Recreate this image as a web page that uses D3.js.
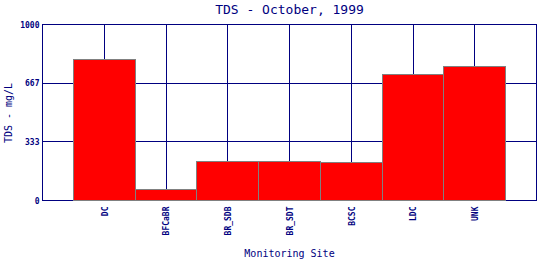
<!DOCTYPE html>
<html>
<head>
<meta charset="utf-8">
<script src="https://cdn.jsdelivr.net/npm/d3@7"></script>
<style>
  body { margin: 0; background: #fff; }
  svg { display: block; }
  text { font-family: "DejaVu Sans Mono", "Liberation Mono", monospace; fill: #000080; }
</style>
</head>
<body>
<svg id="chart" width="540" height="260"></svg>
<script>
    // data
    var sites = ["DC", "BFCaBR", "BR_SDB", "BR_SDT", "BCSC", "LDC", "UNK"];
    var tds = [800, 61, 220, 220, 214, 718, 763];
    var yTicks = [0, 333, 667, 1000];
    var yTickLabels = ["0", "333", "667", "1000"];

    var navy = "#000080";

    var svg = d3.select("#chart"),
        plotLeft = 42.5, plotRight = 536.5, plotTop = 24.5, plotBottom = 200.5;

    var x = d3.scaleLinear().domain([0, sites.length + 1]).range([plotLeft, plotRight]);
    var y = d3.scaleLinear().domain([0, 1000]).range([plotBottom, plotTop]);

    function px(v) { return Math.round(v - 0.5) + 0.5; }

    // vertical grid lines at each site
    svg.append("g")
        .selectAll("line")
        .data(sites)
        .enter()
        .append("line")
        .attr("x1", function (d, i) { return px(x(i + 1)); })
        .attr("x2", function (d, i) { return px(x(i + 1)); })
        .attr("y1", plotTop)
        .attr("y2", plotBottom)
        .attr("stroke", navy)
        .attr("shape-rendering", "crispEdges");

    // horizontal grid lines
    svg.append("g")
        .selectAll("line")
        .data(yTicks.slice(1))
        .enter()
        .append("line")
        .attr("x1", plotLeft)
        .attr("x2", plotRight)
        .attr("y1", function (d) { return px(y(d)); })
        .attr("y2", function (d) { return px(y(d)); })
        .attr("stroke", navy)
        .attr("shape-rendering", "crispEdges");

    // frame
    svg.append("rect")
        .attr("x", plotLeft).attr("y", plotTop)
        .attr("width", plotRight - plotLeft).attr("height", plotBottom - plotTop)
        .attr("fill", "none")
        .attr("stroke", navy)
        .attr("shape-rendering", "crispEdges");

    // bars
    svg.append("g")
        .selectAll("rect")
        .data(tds)
        .enter()
        .append("rect")
        .attr("x", function (d, i) { return px(x(i + 0.5)); })
        .attr("width", function (d, i) { return px(x(i + 1.5)) - px(x(i + 0.5)); })
        .attr("y", function (d) { return px(y(d)); })
        .attr("height", function (d) { return plotBottom - px(y(d)); })
        .attr("fill", "#ff0000")
        .attr("stroke", "#808080")
        .attr("shape-rendering", "crispEdges");

    // y axis labels
    var yAxis = d3.axisLeft(y)
        .tickValues(yTicks)
        .tickFormat(function (d, i) { return yTickLabels[i]; })
        .tickSize(0)
        .tickPadding(3);

    var gy = svg.append("g")
        .attr("transform", "translate(" + plotLeft + ",0)")
        .call(yAxis);
    gy.select(".domain").remove();
    gy.selectAll("text")
        .attr("font-size", 8)
        .attr("font-weight", "bold")
        .attr("dy", "0.35em")
        .style("font-family", "'DejaVu Sans Mono', monospace")
        .attr("fill", navy);

    // x axis labels, rotated
    var xAxis = d3.axisBottom(x)
        .tickValues(d3.range(1, sites.length + 1))
        .tickFormat(function (d) { return sites[d - 1]; })
        .tickSize(0);

    var gx = svg.append("g")
        .attr("transform", "translate(0," + plotBottom + ")")
        .call(xAxis);
    gx.select(".domain").remove();
    gx.selectAll("text")
        .attr("font-size", 8)
        .attr("font-weight", "bold")
        .attr("transform", "rotate(-90)")
        .attr("text-anchor", "end")
        .attr("x", -6)
        .attr("y", 0)
        .attr("dy", "0.35em")
        .style("font-family", "'DejaVu Sans Mono', monospace")
        .attr("fill", navy);

    // titles
    svg.append("text")
        .attr("x", (plotLeft + plotRight) / 2)
        .attr("y", 14)
        .attr("text-anchor", "middle")
        .attr("font-size", 13)
        .text("TDS - October, 1999");

    svg.append("text")
        .attr("x", (plotLeft + plotRight) / 2)
        .attr("y", 257)
        .attr("text-anchor", "middle")
        .attr("font-size", 10)
        .text("Monitoring Site");

    svg.append("text")
        .attr("transform", "translate(12," + 113 + ") rotate(-90)")
        .attr("text-anchor", "middle")
        .attr("font-size", 10)
        .text("TDS - mg/L");
</script>
</body>
</html>
